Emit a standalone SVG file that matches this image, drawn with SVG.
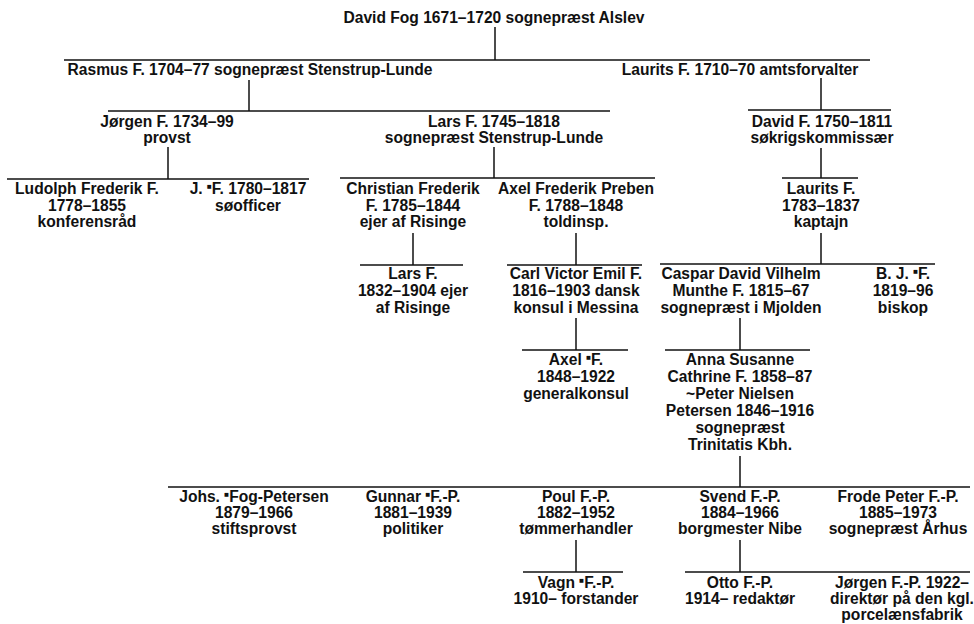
<svg xmlns="http://www.w3.org/2000/svg" width="974" height="624" viewBox="0 0 974 624">
<style>
.t{font-family:"Liberation Sans",Arial,Helvetica,sans-serif;font-size:15.6px;font-weight:bold;text-anchor:middle;fill:#111}
.m{font-size:8px}
#connectors line{stroke:#111;stroke-width:1.5;fill:none}
</style>
<rect width="974" height="624" fill="#fff"/>
<g id="connectors">
<line x1="495" y1="27" x2="495" y2="60"/>
<line x1="64" y1="60" x2="870" y2="60"/>
<line x1="249" y1="80" x2="249" y2="111"/>
<line x1="108" y1="111" x2="610" y2="111"/>
<line x1="821" y1="78" x2="821" y2="110"/>
<line x1="748" y1="110" x2="891" y2="110"/>
<line x1="168" y1="147" x2="168" y2="179"/>
<line x1="7" y1="179" x2="309" y2="179"/>
<line x1="494" y1="147" x2="494" y2="178"/>
<line x1="340" y1="178" x2="655" y2="178"/>
<line x1="821" y1="148" x2="821" y2="178"/>
<line x1="782" y1="178" x2="858" y2="178"/>
<line x1="413" y1="233" x2="413" y2="265"/>
<line x1="360" y1="265" x2="463" y2="265"/>
<line x1="576" y1="233" x2="576" y2="265"/>
<line x1="507" y1="265" x2="642" y2="265"/>
<line x1="821" y1="233" x2="821" y2="264"/>
<line x1="660" y1="264" x2="935" y2="264"/>
<line x1="576" y1="318" x2="576" y2="350"/>
<line x1="522" y1="350" x2="628" y2="350"/>
<line x1="740" y1="318" x2="740" y2="350"/>
<line x1="665" y1="350" x2="810" y2="350"/>
<line x1="740" y1="456" x2="740" y2="487"/>
<line x1="168" y1="487" x2="970" y2="487"/>
<line x1="576" y1="540" x2="576" y2="572"/>
<line x1="523" y1="572" x2="623" y2="572"/>
<line x1="740" y1="540" x2="740" y2="572"/>
<line x1="685" y1="572" x2="970" y2="572"/>
</g>
<g id="david-fog"><text class="t" x="494" y="23">David Fog 1671–1720 sognepræst Alslev</text></g>
<g id="rasmus"><text class="t" x="250" y="75">Rasmus F. 1704–77 sognepræst Stenstrup-Lunde</text></g>
<g id="laurits-1710"><text class="t" x="740" y="75">Laurits F. 1710–70 amtsforvalter</text></g>
<g id="jorgen-1734"><text class="t" x="167" y="127">Jørgen F. 1734–99</text><text class="t" x="167" y="143">provst</text></g>
<g id="lars-1745"><text class="t" x="494" y="127">Lars F. 1745–1818</text><text class="t" x="494" y="143">sognepræst Stenstrup-Lunde</text></g>
<g id="david-1750"><text class="t" x="822" y="127">David F. 1750–1811</text><text class="t" x="822" y="143">søkrigskommissær</text></g>
<g id="ludolph"><text class="t" x="87" y="194">Ludolph Frederik F.</text><text class="t" x="87" y="210.5">1778–1855</text><text class="t" x="87" y="227">konferensråd</text></g>
<g id="j-1780"><text class="t" x="248" y="194">J. <tspan class="m" dy="-5">■</tspan><tspan dy="5">F. 1780–1817</tspan></text><text class="t" x="248" y="210.5">søofficer</text></g>
<g id="christian"><text class="t" x="413" y="194">Christian Frederik</text><text class="t" x="413" y="210.5">F. 1785–1844</text><text class="t" x="413" y="227">ejer af Risinge</text></g>
<g id="axel-preben"><text class="t" x="576" y="194">Axel Frederik Preben</text><text class="t" x="576" y="210.5">F. 1788–1848</text><text class="t" x="576" y="227">toldinsp.</text></g>
<g id="laurits-1783"><text class="t" x="821" y="194">Laurits F.</text><text class="t" x="821" y="210.5">1783–1837</text><text class="t" x="821" y="227">kaptajn</text></g>
<g id="lars-1832"><text class="t" x="413" y="279">Lars F.</text><text class="t" x="413" y="296">1832–1904 ejer</text><text class="t" x="413" y="313">af Risinge</text></g>
<g id="carl"><text class="t" x="576" y="279">Carl Victor Emil F.</text><text class="t" x="576" y="296">1816–1903 dansk</text><text class="t" x="576" y="313">konsul i Messina</text></g>
<g id="caspar"><text class="t" x="741" y="279">Caspar David Vilhelm</text><text class="t" x="741" y="296">Munthe F. 1815–67</text><text class="t" x="741" y="313">sognepræst i Mjolden</text></g>
<g id="bj"><text class="t" x="903" y="279">B. J. <tspan class="m" dy="-5">■</tspan><tspan dy="5">F.</tspan></text><text class="t" x="903" y="296">1819–96</text><text class="t" x="903" y="313">biskop</text></g>
<g id="axel-1848"><text class="t" x="576" y="365">Axel <tspan class="m" dy="-5">■</tspan><tspan dy="5">F.</tspan></text><text class="t" x="576" y="382">1848–1922</text><text class="t" x="576" y="399">generalkonsul</text></g>
<g id="anna"><text class="t" x="740" y="365">Anna Susanne</text><text class="t" x="740" y="382">Cathrine F. 1858–87</text><text class="t" x="740" y="399">~Peter Nielsen</text><text class="t" x="740" y="416">Petersen 1846–1916</text><text class="t" x="740" y="433">sognepræst</text><text class="t" x="740" y="450">Trinitatis Kbh.</text></g>
<g id="johs"><text class="t" x="254" y="502">Johs. <tspan class="m" dy="-5">■</tspan><tspan dy="5">Fog-Petersen</tspan></text><text class="t" x="254" y="518">1879–1966</text><text class="t" x="254" y="534">stiftsprovst</text></g>
<g id="gunnar"><text class="t" x="413" y="502">Gunnar <tspan class="m" dy="-5">■</tspan><tspan dy="5">F.-P.</tspan></text><text class="t" x="413" y="518">1881–1939</text><text class="t" x="413" y="534">politiker</text></g>
<g id="poul"><text class="t" x="576" y="502">Poul F.-P.</text><text class="t" x="576" y="518">1882–1952</text><text class="t" x="576" y="534">tømmerhandler</text></g>
<g id="svend"><text class="t" x="740" y="502">Svend F.-P.</text><text class="t" x="740" y="518">1884–1966</text><text class="t" x="740" y="534">borgmester Nibe</text></g>
<g id="frode"><text class="t" x="898" y="502">Frode Peter F.-P.</text><text class="t" x="898" y="518">1885–1973</text><text class="t" x="898" y="534">sognepræst Århus</text></g>
<g id="vagn"><text class="t" x="576" y="588">Vagn <tspan class="m" dy="-5">■</tspan><tspan dy="5">F.-P.</tspan></text><text class="t" x="576" y="604">1910– forstander</text></g>
<g id="otto"><text class="t" x="740" y="588">Otto F.-P.</text><text class="t" x="740" y="604">1914– redaktør</text></g>
<g id="jorgen-1922"><text class="t" x="902" y="588">Jørgen F.-P. 1922–</text><text class="t" x="902" y="604">direktør på den kgl.</text><text class="t" x="902" y="620">porcelænsfabrik</text></g>
</svg>
